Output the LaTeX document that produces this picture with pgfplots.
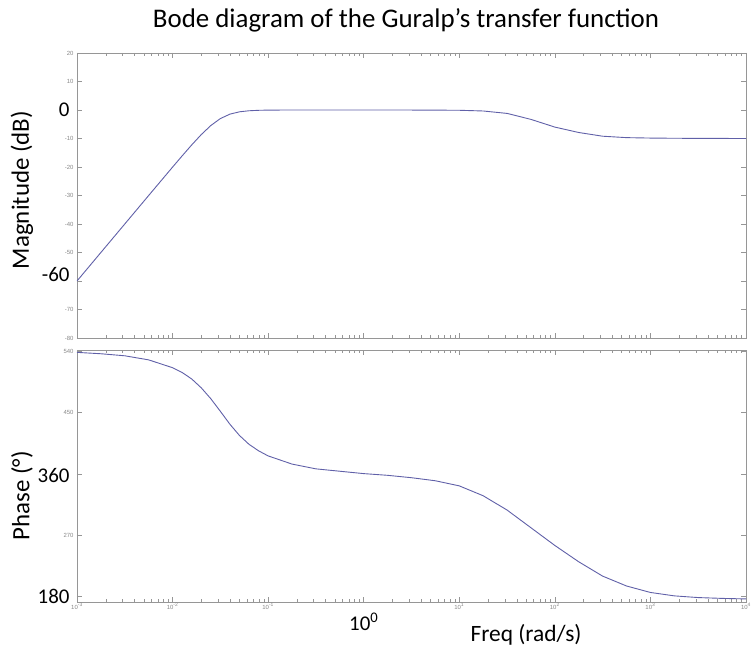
\documentclass[border=0pt]{standalone}
\usepackage{pgfplots}
\pgfplotsset{compat=1.18}
\usepackage{fontspec}
\setmainfont{Carlito}
\newfontfamily\tickfont{Liberation Sans}
\definecolor{curve}{RGB}{96,96,168}
\definecolor{framec}{RGB}{150,150,150}
\definecolor{ticklab}{RGB}{135,135,135}
\begin{document}
\begin{tikzpicture}
\useasboundingbox (0,0) rectangle (751bp,648bp);
% ---------------- Magnitude ----------------
\begin{axis}[xmode=log, xmin=1e-3, xmax=1e4, scale only axis, width=669bp,
  clip mode=individual,
  axis line style={framec, line width=0.6bp},
  major tick style={framec, line width=0.5bp},
  minor tick style={framec, line width=0.5bp},
  major tick length=5bp, minor tick length=3bp,
  tick align=inside,
  xtick={1e-3,1e-2,1e-1,1,1e1,1e2,1e3,1e4},
  tick label style={font=\tickfont\fontsize{6}{7}\selectfont, text=ticklab},
  at={(77bp,310bp)}, anchor=south west, height=285bp,
  ymin=-80, ymax=20, ytick={-80,-70,-60,-50,-40,-30,-20,-10,0,10,20},
  yticklabels={-80,-70,,-50,-40,-30,-20,-10,,10,20},
  xticklabels={}]
\addplot[curve, line width=0.9bp] coordinates {
(0.001,-60) (0.001778,-50) (0.003162,-40) (0.005623,-30) (0.01,-20.04)
(0.012589,-16.11) (0.015849,-12.27) (0.019953,-8.64) (0.025119,-5.46)
(0.031623,-3.01) (0.039811,-1.46) (0.050119,-0.64) (0.063096,-0.27)
(0.079433,-0.11) (0.1,-0.04) (0.177828,0) (0.316228,0) (0.562341,0)
(1,0) (1.778279,0) (3.162278,-0.02) (5.623413,-0.05) (10,-0.1)
(17.78279,-0.35) (31.62278,-1.2) (56.23413,-3.3) (100,-6.0)
(177.8279,-7.9) (316.2278,-9.2) (562.3413,-9.7) (1000,-9.85)
(1778.279,-9.92) (3162.278,-9.96) (5623.413,-9.98) (10000,-10)
};
\node[anchor=east, font=\fontsize{21}{21}\selectfont] at ([xshift=-4bp]axis cs:0.001,0) {0};
\node[anchor=east, font=\fontsize{21}{21}\selectfont] at ([xshift=-4bp,yshift=6bp]axis cs:0.001,-60) {-60};
\end{axis}
% ---------------- Phase ----------------
\begin{axis}[xmode=log, xmin=1e-3, xmax=1e4, scale only axis, width=669bp,
  clip mode=individual,
  axis line style={framec, line width=0.6bp},
  major tick style={framec, line width=0.5bp},
  minor tick style={framec, line width=0.5bp},
  major tick length=5bp, minor tick length=3bp,
  tick align=inside,
  xtick={1e-3,1e-2,1e-1,1,1e1,1e2,1e3,1e4},
  tick label style={font=\tickfont\fontsize{6}{7}\selectfont, text=ticklab},
  at={(77bp,46bp)}, anchor=south west, height=252bp,
  ymin=172, ymax=542, ytick={180,270,360,450,540},
  yticklabels={,270,,450,540},
  xticklabels={10\textsuperscript{-3},10\textsuperscript{-2},10\textsuperscript{-1},,10\textsuperscript{1},10\textsuperscript{2},10\textsuperscript{3},10\textsuperscript{4}},
  xticklabel style={yshift=2bp}]
\addplot[curve, line width=0.9bp] coordinates {
(0.001,538.5) (0.001778,536.5) (0.003162,533.5) (0.005623,527.5) (0.01,516)
(0.012589,509) (0.015849,499.5) (0.019953,486.5) (0.025119,470.5)
(0.031623,452) (0.039811,433) (0.050119,416.5) (0.063096,403.5)
(0.079433,394) (0.1,386.5) (0.177828,374.5) (0.316228,367.5) (0.562341,364)
(1,360.5) (1.778279,358) (3.162278,354.5) (5.623413,350) (10,342.5)
(17.78279,328) (31.62278,307) (56.23413,281) (100,255)
(177.8279,231) (316.2278,210) (562.3413,195.5) (1000,186)
(1778.279,181) (3162.278,178.5) (5623.413,177.3) (10000,176.5)
};
\node[anchor=east, font=\fontsize{21}{21}\selectfont] at ([xshift=-4bp,yshift=-2bp]axis cs:0.001,360) {360};
\node[anchor=east, font=\fontsize{21}{21}\selectfont] at ([xshift=-4bp]axis cs:0.001,180) {180};
\node[font=\fontsize{21}{21}\selectfont] at ([yshift=-20bp]axis cs:1,172) {10\textsuperscript{0}};
\end{axis}
\node[font=\fontsize{27}{27}\selectfont] at (406bp,628bp) {Bode diagram of the Guralp’s transfer function};
\node[rotate=90, font=\fontsize{25}{25}\selectfont] at (22bp,458bp) {Magnitude (dB)};
\node[rotate=90, font=\fontsize{25}{25}\selectfont] at (22bp,152bp) {Phase (°)};
\node[font=\fontsize{23.5}{23.5}\selectfont] at (526bp,13bp) {Freq (rad/s)};
\end{tikzpicture}
\end{document}
